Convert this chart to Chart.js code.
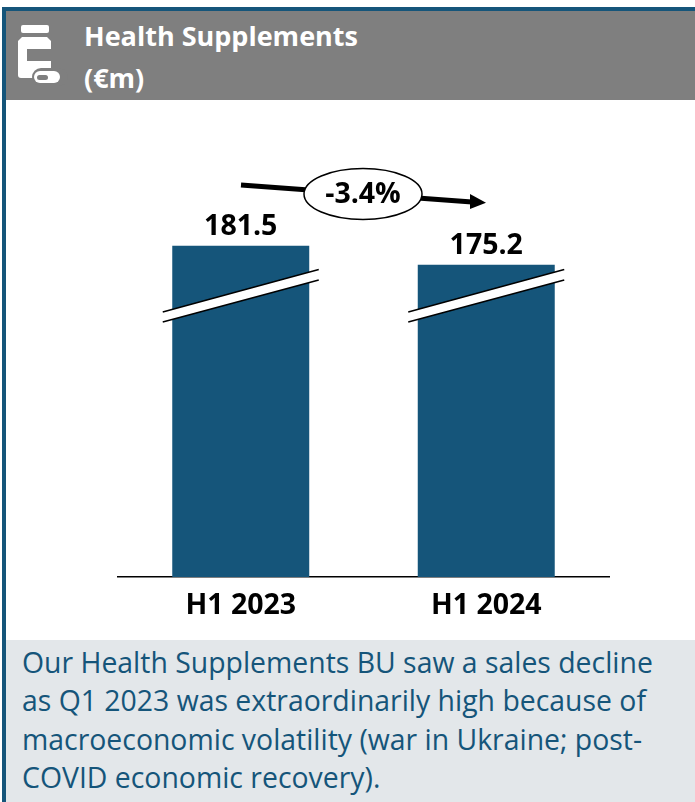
<!DOCTYPE html>
<html>
<head>
<meta charset="utf-8">
<style>
  html, body { margin: 0; padding: 0; background: #fff; }
  #page { position: relative; width: 695px; height: 802px; overflow: hidden; font-family: "Open Sans", sans-serif; }
  #topRule { position: absolute; left: 2px; top: 7px; right: 0; height: 4px; background: #15557a; }
  #leftRule { position: absolute; left: 2px; top: 7px; width: 4px; bottom: 0; background: #15557a; }
  #header { position: absolute; left: 6px; top: 11px; right: 0; height: 89px; background: #7f7f7f; }
  #header svg { position: absolute; left: 0; top: -11px; }
  #title { position: absolute; left: 78px; top: 4px; color: #fff; font-weight: 700; font-size: 27px; line-height: 42px; }
  #chartBox { position: absolute; left: 0; top: 100px; width: 695px; height: 540px; }
  #note { position: absolute; left: 6px; top: 640px; right: 0; bottom: 0; background: #e3e7ea; color: #15557a;
          font-size: 28.4px; line-height: 38.4px; padding: 3px 0 0 16px; white-space: pre; }
</style>
</head>
<body>
<div id="page">
  <div id="topRule"></div>
  <div id="leftRule"></div>
  <div id="header">
    <svg width="70" height="100" viewBox="0 0 70 100">
      <path d="M17 25h24a2 2 0 0 1 2 2v4a2 2 0 0 1-2 2H17a2 2 0 0 1-2-2v-4a2 2 0 0 1 2-2z" fill="#fff"/>
      <path d="M16 37h25l4 4v34a3 3 0 0 1-3 3H15a3 3 0 0 1-3-3V41z" fill="#fff"/>
      <rect x="21" y="49" width="24" height="12" fill="#7f7f7f"/>
      <rect x="26" y="68" width="36" height="18" rx="9" fill="#7f7f7f"/>
      <rect x="28" y="71" width="26" height="12" rx="6" fill="#fff"/>
      <rect x="31" y="75" width="11" height="5" rx="2.5" fill="#7f7f7f"/>
    </svg>
    <div id="title">Health Supplements<br>(€m)</div>
  </div>
  <div id="chartBox"><canvas id="salesCanvas" width="695" height="540"></canvas></div>
  <div id="note">Our Health Supplements BU saw a sales decline
as Q1 2023 was extraordinarily high because of
macroeconomic volatility (war in Ukraine; post-
COVID economic recovery).</div>
</div>

<script src="https://cdn.jsdelivr.net/npm/chart.js@4/dist/chart.umd.min.js"></script>
<script>
const categories = ['H1 2023', 'H1 2024'];
const sales = [181.5, 175.2];
const changeLabel = '-3.4%';

const barColor = '#15557a';
const boldFont = '700 28.5px "Open Sans", sans-serif';

// values above each bar
const valueLabels = {
    id: 'valueLabels',
    afterDatasetsDraw(chart) {
        const ctx = chart.ctx;
        ctx.save();
        ctx.font = boldFont;
        ctx.fillStyle = '#000';
        ctx.textAlign = 'center';
        ctx.textBaseline = 'alphabetic';
        chart.getDatasetMeta(0).data.forEach((bar, i) => {
            ctx.fillText(sales[i].toFixed(1), bar.x, bar.y - 11);
        });
        ctx.restore();
    }
};

// slanted white band on each bar: the value axis does not start at zero
const axisBreaks = {
    id: 'axisBreaks',
    afterDatasetsDraw(chart) {
        const ctx = chart.ctx;
        ctx.save();
        ctx.lineWidth = 1.5;
        ctx.strokeStyle = '#000';
        ctx.fillStyle = '#fff';
        chart.getDatasetMeta(0).data.forEach(bar => {
            const l = bar.x - 78, r = bar.x + 78;
            ctx.beginPath();
            ctx.moveTo(l, 212);
            ctx.lineTo(r, 169.5);
            ctx.lineTo(r, 180);
            ctx.lineTo(l, 222);
            ctx.closePath();
            ctx.fill();
            ctx.beginPath();
            ctx.moveTo(l, 212);
            ctx.lineTo(r, 169.5);
            ctx.moveTo(r, 180);
            ctx.lineTo(l, 222);
            ctx.stroke();
        });
        ctx.restore();
    }
};

// trend arrow with the change in an ellipse on top of it
const trendArrow = {
    id: 'trendArrow',
    afterDatasetsDraw(chart) {
        const ctx = chart.ctx;
        ctx.save();
        ctx.strokeStyle = '#000';
        ctx.fillStyle = '#000';
        ctx.lineWidth = 5;
        ctx.beginPath();
        ctx.moveTo(241, 85);
        ctx.lineTo(472, 102);
        ctx.stroke();
        ctx.beginPath();
        ctx.moveTo(470, 94);
        ctx.lineTo(486, 102.7);
        ctx.lineTo(470, 109);
        ctx.closePath();
        ctx.fill();

        ctx.lineWidth = 1.5;
        ctx.fillStyle = '#fff';
        ctx.beginPath();
        ctx.ellipse(363, 94, 59, 25.5, 0, 0, Math.PI * 2);
        ctx.fill();
        ctx.stroke();

        ctx.font = boldFont;
        ctx.fillStyle = '#000';
        ctx.textAlign = 'center';
        ctx.textBaseline = 'middle';
        ctx.fillText(changeLabel, 363, 95);
        ctx.restore();
    }
};

new Chart(document.getElementById('salesCanvas'), {
    type: 'bar',
    data: {
        labels: categories,
        datasets: [{
            data: sales,
            backgroundColor: barColor,
            borderWidth: 0,
            barPercentage: 0.558,
            categoryPercentage: 1
        }]
    },
    options: {
        responsive: false,
        animation: false,
        layout: { padding: { left: 118, right: 86, top: 10, bottom: 0 } },
        plugins: { legend: { display: false }, tooltip: { enabled: false } },
        scales: {
            y: { display: false, min: 71.7, max: 226.5 },
            x: {
                afterFit(scale) { scale.height = 63; },
                grid: { display: false, drawTicks: false },
                border: { color: '#000', width: 1.5 },
                ticks: {
                    color: '#000',
                    padding: 12,
                    maxRotation: 0,
                    font: { family: '"Open Sans", sans-serif', size: 28.5, weight: '700' }
                }
            }
        }
    },
    plugins: [valueLabels, axisBreaks, trendArrow]
});
</script>
</body>
</html>
